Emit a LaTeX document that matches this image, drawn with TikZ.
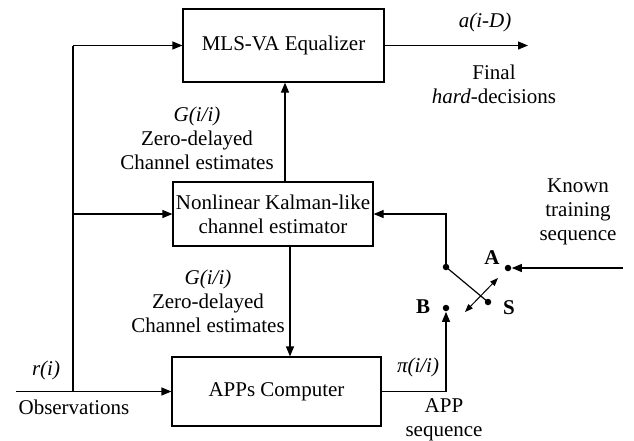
\documentclass[tikz,border=0pt]{standalone}
\usepackage{fontspec}
\setmainfont{Liberation Serif}
\usetikzlibrary{arrows.meta}

\begin{document}
\begin{tikzpicture}[x=1pt, y=-1pt, line width=1.2pt, font=\fontsize{21}{24}\selectfont,
	>={Triangle[length=10pt, width=8pt]},
	blk/.style={draw, inner sep=0pt, align=center},
	lbl/.style={align=center, inner sep=0pt},
	dot/.style={circle, fill, inner sep=0pt, minimum size=6.5pt}]
	\useasboundingbox (0, 0) rectangle (634, 440);

	\node[blk, minimum width=201pt, minimum height=73pt] (mls) at (283.5, 45.5) {MLS-VA Equalizer};
	\node[blk, minimum width=200pt, minimum height=64pt] (kal) at (273, 214) {Nonlinear Kalman-like\\channel estimator};
	\node[blk, minimum width=209pt, minimum height=69pt] (app) at (276.5, 391.5) {APPs Computer};

	\coordinate (obs) at (16, 391.5);
	\coordinate (jn) at (73, 391.5);
	\coordinate (tp) at (73, 45.5);
	\coordinate (md) at (73, 214);
	\coordinate (out) at (528, 45.5);
	\coordinate (known) at (623, 268);

	\draw[->] (obs) -- (app.west);
	\draw (jn) -- (tp);
	\draw[->] (tp) -- (mls.west);
	\draw[->] (md) -- (kal.west);
	\draw[->] ([xshift=12pt]kal.north) -- ([xshift=12pt]kal.north |- mls.south);
	\draw[->] ([xshift=17pt]kal.south) -- ([xshift=17pt]kal.south |- app.north);
	\draw[->] (mls.east) -- (out);

	\node[dot] (sw) at (446, 267) {};
	\node[dot] (ps) at (488, 302) {};
	\node[dot] (pa) at (508, 268) {};
	\node[dot] (pb) at (446, 308) {};
	\draw[->] (sw.center) |- (kal.east);
	\draw (sw.center) -- (ps.center);
	\draw[->] (known) -- (pa);
	\draw[->] (app.east) -| (pb);
	\coordinate (s1) at (465, 312);
	\coordinate (s2) at (498, 278);
	\draw[{Triangle[length=8pt, width=6pt]}-{Triangle[length=8pt, width=6pt]}, line width=1pt] (s1) -- (s2);

	\node[lbl] (la) at (492, 258) {\textbf{A}};
	\node[lbl] (lb) at (423, 307) {\textbf{B}};
	\node[lbl] (ls) at (509, 308) {\textbf{S}};

	\node[lbl] (aid) at (485, 22) {\textit{a(i-D)}};
	\node[lbl] (fin) at (494, 84.5) {Final\\\textit{hard}-decisions};
	\node[lbl] (g1) at (197, 138) {\textit{G(i/i)}\\Zero-delayed\\Channel estimates};
	\node[lbl] (g2) at (208, 301) {\textit{G(i/i)}\\Zero-delayed\\Channel estimates};
	\node[lbl] (kts) at (578, 212) {Known\\training\\sequence};
	\node[lbl] (ri) at (46, 370) {\textit{r(i)}};
	\node[lbl] (ob) at (74, 407) {Observations};
	\node[lbl] (pi) at (418, 367) {\textit{π(i/i)}};
	\node[lbl] (aps) at (444, 419.5) {APP\\sequence};
\end{tikzpicture}
\end{document}
